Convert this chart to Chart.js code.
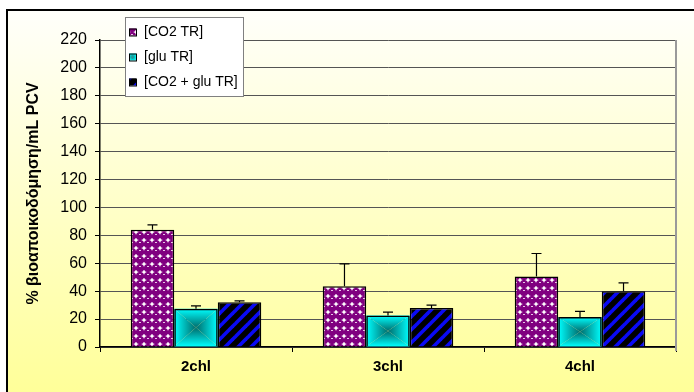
<!DOCTYPE html>
<html>
<head>
<meta charset="utf-8">
<script src="https://cdn.jsdelivr.net/npm/chart.js@4"></script>
<style>
  html, body { margin: 0; padding: 0; background: #fff; }
  #wrap { width: 694px; height: 392px; }
</style>
</head>
<body>
<div id="wrap"><canvas id="chart" width="694" height="392"></canvas></div>
<script>
const categories = ["2chl", "3chl", "4chl"];
const seriesNames = ["[CO2 TR]", "[glu TR]", "[CO2 + glu TR]"];
const co2Values = [84, 43.5, 50.5];
const co2Errors = [3.5, 16, 16.5];
const gluValues = [27.5, 22.5, 21.5];
const gluErrors = [2, 2.5, 4];
const mixValues = [32, 28, 40];
const mixErrors = [1, 2, 6];
const yTicks = [0, 20, 40, 60, 80, 100, 120, 140, 160, 180, 200, 220];

const FONT = "Arial, 'Liberation Sans', sans-serif";

// purple balls on white
function makeBalls() {
  const s = 8;
  const c = document.createElement("canvas");
  c.width = s; c.height = s;
  const g = c.getContext("2d");
  g.fillStyle = "#ffffff";
  g.fillRect(0, 0, s, s);
  g.fillStyle = "#800080";
  g.beginPath();
  g.arc(4, 4, 4.1, 0, Math.PI * 2);
  g.fill();
  g.fillStyle = "#e6c6e6";
  g.fillRect(3, 2, 2, 1);
  return g.createPattern(c, "repeat");
}

// blue diagonal stripes on black
function makeStripes() {
  const s = 13;
  const c = document.createElement("canvas");
  c.width = s; c.height = s;
  const g = c.getContext("2d");
  g.fillStyle = "#000000";
  g.fillRect(0, 0, s, s);
  g.strokeStyle = "#0a0af5";
  g.lineWidth = 3.6;
  [0, s, 2 * s].forEach(k => {
    g.beginPath();
    g.moveTo(k - s * 2, s * 2);
    g.lineTo(k + s * 2, -s * 2);
    g.stroke();
  });
  return g.createPattern(c, "repeat");
}

// cyan "from center" gradient
function drawPyramid(ctx, l, t, r, b) {
  const cx = (l + r) / 2, cy = (t + b) / 2;
  const edge = "#00ffff", mid = "#006c6c";
  const parts = [
    [[l, t], [r, t], [cx, t]],
    [[r, b], [l, b], [cx, b]],
    [[l, b], [l, t], [l, cy]],
    [[r, t], [r, b], [r, cy]]
  ];
  parts.forEach(p => {
    const gr = ctx.createLinearGradient(p[2][0], p[2][1], cx, cy);
    gr.addColorStop(0, edge);
    gr.addColorStop(1, mid);
    ctx.fillStyle = gr;
    ctx.beginPath();
    ctx.moveTo(p[0][0], p[0][1]);
    ctx.lineTo(p[1][0], p[1][1]);
    ctx.lineTo(cx, cy);
    ctx.closePath();
    ctx.fill();
  });
}

const balls = makeBalls();
const stripes = makeStripes();
const errors = [co2Errors, gluErrors, mixErrors];

const backgroundPlugin = {
  id: "bg",
  beforeDraw(chart) {
    const ctx = chart.ctx;
    ctx.save();
    ctx.fillStyle = "#ffffff";
    ctx.fillRect(0, 0, chart.width, chart.height);
    const gr = ctx.createLinearGradient(0, 10, 0, chart.height);
    gr.addColorStop(0, "#fffffb");
    gr.addColorStop(1, "#ffff99");
    ctx.fillStyle = gr;
    ctx.fillRect(7, 10, chart.width - 7, chart.height - 10);
    ctx.strokeStyle = "#000000";
    ctx.lineWidth = 2;
    ctx.beginPath();
    ctx.moveTo(7, chart.height);
    ctx.lineTo(7, 10);
    ctx.lineTo(chart.width, 10);
    ctx.stroke();
    ctx.restore();
  }
};

const pyramidPlugin = {
  id: "pyramid",
  beforeDatasetDraw(chart, args) {
    if (args.index !== 1) return;
    const ctx = chart.ctx;
    ctx.save();
    args.meta.data.forEach(el => {
      const p = el.getProps(["x", "y", "base", "width"], true);
      drawPyramid(ctx, p.x - p.width / 2, p.y, p.x + p.width / 2, p.base);
    });
    ctx.restore();
  }
};

const errorPlugin = {
  id: "errorBars",
  afterDatasetsDraw(chart) {
    const ctx = chart.ctx;
    const y = chart.scales.y;
    ctx.save();
    ctx.strokeStyle = "#000000";
    ctx.lineWidth = 1.2;
    chart.data.datasets.forEach((ds, i) => {
      chart.getDatasetMeta(i).data.forEach((el, j) => {
        const top = y.getPixelForValue(ds.data[j] + errors[i][j]);
        ctx.beginPath();
        ctx.moveTo(el.x, el.y);
        ctx.lineTo(el.x, top);
        ctx.moveTo(el.x - 5, top);
        ctx.lineTo(el.x + 5, top);
        ctx.stroke();
      });
    });
    // right edge of the plot
    const a = chart.chartArea;
    ctx.strokeStyle = "#9a9a9a";
    ctx.lineWidth = 2;
    ctx.beginPath();
    ctx.moveTo(a.right, a.top);
    ctx.lineTo(a.right, a.bottom + 4);
    ctx.stroke();
    ctx.restore();
  }
};

const legendPlugin = {
  id: "boxLegend",
  afterDraw(chart) {
    const ctx = chart.ctx;
    const a = chart.chartArea;
    const x = a.left + 25, top = a.top - 23, w = 118, h = 79;
    ctx.save();
    ctx.fillStyle = "#ffffff";
    ctx.fillRect(x, top, w, h);
    ctx.strokeStyle = "#808080";
    ctx.lineWidth = 1;
    ctx.strokeRect(x + 0.5, top + 0.5, w, h);
    ctx.font = "14px " + FONT;
    ctx.textBaseline = "middle";
    chart.data.datasets.forEach((ds, i) => {
      const cy = top + 15 + i * 25;
      const sx = x + 4, sy = cy - 3.5;
      if (i === 1) {
        drawPyramid(ctx, sx, sy, sx + 7, sy + 7);
      } else {
        ctx.fillStyle = ds.backgroundColor;
        ctx.fillRect(sx, sy, 7, 7);
      }
      ctx.strokeStyle = "#000000";
      ctx.strokeRect(sx + 0.5, sy + 0.5, 7, 7);
      ctx.fillStyle = "#000000";
      ctx.fillText(ds.label, x + 19, cy);
    });
    ctx.restore();
  }
};

new Chart(document.getElementById("chart"), {
  type: "bar",
  data: {
    labels: categories,
    datasets: [
      { label: seriesNames[0], data: co2Values, backgroundColor: balls, borderColor: "#000", borderWidth: 1.5 },
      { label: seriesNames[1], data: gluValues, backgroundColor: "rgba(0,0,0,0)", borderColor: "#000", borderWidth: 1.5 },
      { label: seriesNames[2], data: mixValues, backgroundColor: stripes, borderColor: "#000", borderWidth: 1.5 }
    ]
  },
  options: {
    responsive: false,
    animation: false,
    devicePixelRatio: 1,
    categoryPercentage: 0.68,
    barPercentage: 1,
    layout: { padding: { left: 20, top: 40, right: 18, bottom: 0 } },
    plugins: {
      legend: { display: false },
      tooltip: { enabled: false }
    },
    scales: {
      x: {
        grid: { offset: true, drawOnChartArea: false, drawTicks: true, tickLength: 5, color: "#000" },
        border: { color: "#000", width: 1.5 },
        ticks: { color: "#000", padding: 6, font: { family: FONT, size: 15, weight: "bold" } },
        afterFit(scale) { scale.height = 45; }
      },
      y: {
        min: yTicks[0],
        max: yTicks[yTicks.length - 1],
        afterBuildTicks(scale) { scale.ticks = yTicks.map(v => ({ value: v })); },
        grid: { color: "#555", lineWidth: 1, tickLength: 5, tickColor: "#000" },
        border: { color: "#000", width: 1.5 },
        ticks: { color: "#000", padding: 8, font: { family: FONT, size: 16 } },
        title: {
          display: true,
          text: "% βιοαποικοδόμηση/mL PCV",
          color: "#000",
          font: { family: FONT, size: 16, weight: "bold" }
        },
        afterFit(scale) { scale.width = 80; }
      }
    }
  },
  plugins: [backgroundPlugin, pyramidPlugin, errorPlugin, legendPlugin]
});
</script>
</body>
</html>
